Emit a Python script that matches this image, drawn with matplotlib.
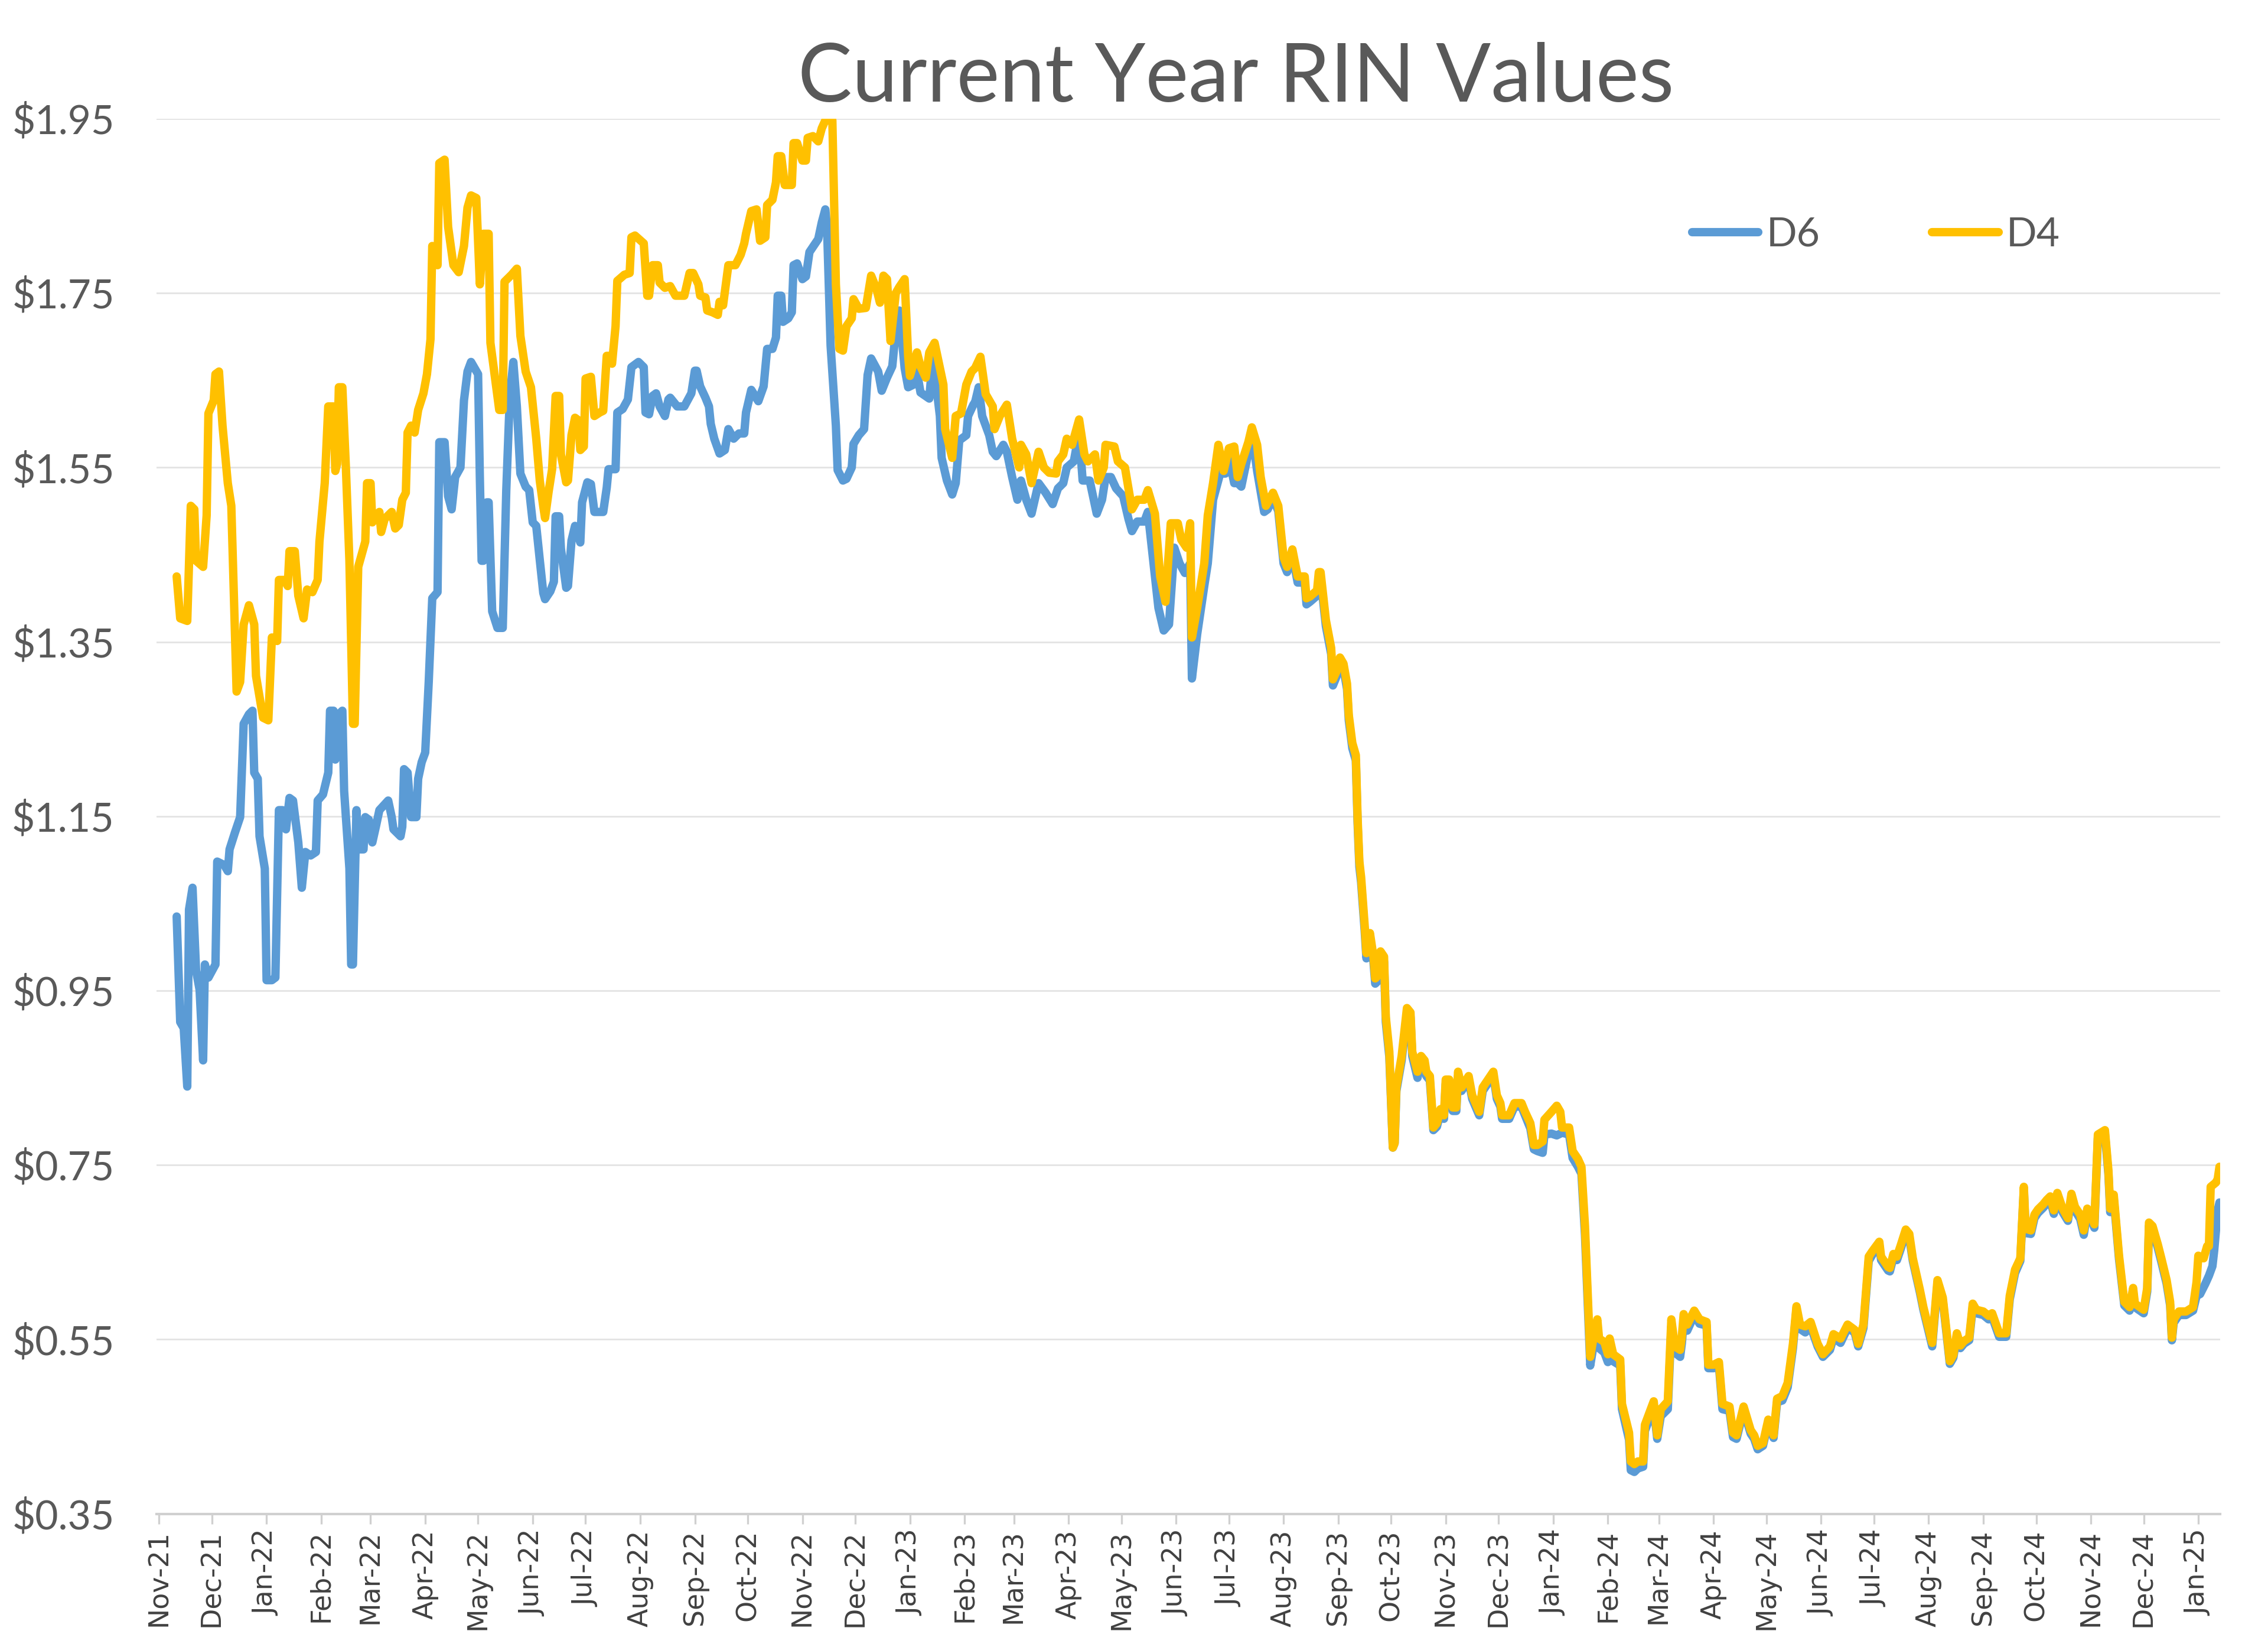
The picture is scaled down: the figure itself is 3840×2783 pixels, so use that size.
import matplotlib
matplotlib.use('Agg')
import matplotlib.pyplot as plt
import matplotlib.dates as mdates
import pandas as pd

# values ($ per RIN)
d6 = [
    ('2021-11-11', 1.035), ('2021-11-13', 0.914), ('2021-11-15', 0.907), ('2021-11-17', 0.84), ('2021-11-18', 1.043),
    ('2021-11-20', 1.068), ('2021-11-22', 0.973), ('2021-11-24', 0.951), ('2021-11-26', 0.87), ('2021-11-27', 0.98),
    ('2021-11-29', 0.965),
    ('2021-12-03', 0.98), ('2021-12-04', 1.098), ('2021-12-08', 1.094), ('2021-12-10', 1.087), ('2021-12-11', 1.112),
    ('2021-12-14', 1.131), ('2021-12-17', 1.149), ('2021-12-19', 1.256), ('2021-12-22', 1.267), ('2021-12-24', 1.271),
    ('2021-12-25', 1.2), ('2021-12-27', 1.193), ('2021-12-28', 1.127), ('2021-12-31', 1.09),
    ('2022-01-01', 0.962), ('2022-01-04', 0.962), ('2022-01-06', 0.965), ('2022-01-08', 1.157), ('2022-01-10', 1.157),
    ('2022-01-12', 1.135), ('2022-01-14', 1.171), ('2022-01-16', 1.168), ('2022-01-19', 1.12), ('2022-01-21', 1.068),
    ('2022-01-23', 1.109), ('2022-01-26', 1.105), ('2022-01-29', 1.109), ('2022-01-30', 1.168),
    ('2022-02-02', 1.175), ('2022-02-05', 1.2), ('2022-02-06', 1.271), ('2022-02-08', 1.271), ('2022-02-09', 1.215),
    ('2022-02-11', 1.267), ('2022-02-13', 1.271), ('2022-02-14', 1.179), ('2022-02-17', 1.09), ('2022-02-18', 0.98),
    ('2022-02-19', 0.98), ('2022-02-21', 1.157), ('2022-02-22', 1.112), ('2022-02-25', 1.112), ('2022-02-26', 1.149),
    ('2022-02-28', 1.146),
    ('2022-03-02', 1.12), ('2022-03-04', 1.138), ('2022-03-06', 1.157), ('2022-03-11', 1.168), ('2022-03-13', 1.149),
    ('2022-03-14', 1.135), ('2022-03-18', 1.127), ('2022-03-19', 1.138), ('2022-03-20', 1.204), ('2022-03-22', 1.2),
    ('2022-03-24', 1.149), ('2022-03-27', 1.149), ('2022-03-28', 1.193), ('2022-03-30', 1.212),
    ('2022-04-01', 1.223), ('2022-04-03', 1.304), ('2022-04-05', 1.4), ('2022-04-08', 1.407), ('2022-04-09', 1.579),
    ('2022-04-12', 1.579), ('2022-04-14', 1.517), ('2022-04-16', 1.502), ('2022-04-18', 1.539), ('2022-04-21', 1.55),
    ('2022-04-23', 1.627), ('2022-04-25', 1.66), ('2022-04-27', 1.671),
    ('2022-05-01', 1.657), ('2022-05-02', 1.539), ('2022-05-03', 1.443), ('2022-05-04', 1.443), ('2022-05-06', 1.51),
    ('2022-05-07', 1.51), ('2022-05-09', 1.385), ('2022-05-12', 1.366), ('2022-05-15', 1.366), ('2022-05-17', 1.524),
    ('2022-05-19', 1.631), ('2022-05-21', 1.671), ('2022-05-23', 1.62), ('2022-05-25', 1.543), ('2022-05-28', 1.528),
    ('2022-05-30', 1.524),
    ('2022-06-01', 1.487), ('2022-06-03', 1.483), ('2022-06-05', 1.444), ('2022-06-07', 1.406), ('2022-06-08', 1.399),
    ('2022-06-11', 1.408), ('2022-06-13', 1.419), ('2022-06-14', 1.494), ('2022-06-16', 1.494), ('2022-06-17', 1.457),
    ('2022-06-20', 1.412), ('2022-06-21', 1.414), ('2022-06-23', 1.466), ('2022-06-25', 1.483), ('2022-06-28', 1.464),
    ('2022-06-29', 1.51),
    ('2022-07-02', 1.533), ('2022-07-04', 1.531), ('2022-07-06', 1.499), ('2022-07-11', 1.499), ('2022-07-13', 1.527),
    ('2022-07-14', 1.548), ('2022-07-18', 1.548), ('2022-07-19', 1.613), ('2022-07-22', 1.617), ('2022-07-25', 1.628),
    ('2022-07-27', 1.665), ('2022-07-31', 1.671),
    ('2022-08-03', 1.665), ('2022-08-04', 1.613), ('2022-08-06', 1.611), ('2022-08-08', 1.632), ('2022-08-10', 1.635),
    ('2022-08-12', 1.62), ('2022-08-15', 1.609), ('2022-08-17', 1.628), ('2022-08-18', 1.63), ('2022-08-22', 1.62),
    ('2022-08-26', 1.62), ('2022-08-30', 1.635),
    ('2022-09-01', 1.661), ('2022-09-02', 1.661), ('2022-09-04', 1.643), ('2022-09-07', 1.63), ('2022-09-09', 1.62),
    ('2022-09-10', 1.6), ('2022-09-12', 1.583), ('2022-09-15', 1.566), ('2022-09-18', 1.57), ('2022-09-20', 1.594),
    ('2022-09-23', 1.583), ('2022-09-26', 1.589), ('2022-09-29', 1.589), ('2022-09-30', 1.613),
    ('2022-10-03', 1.639), ('2022-10-07', 1.626), ('2022-10-10', 1.643), ('2022-10-12', 1.686), ('2022-10-15', 1.686),
    ('2022-10-17', 1.699), ('2022-10-18', 1.747), ('2022-10-20', 1.747), ('2022-10-21', 1.717), ('2022-10-24', 1.721),
    ('2022-10-26', 1.728), ('2022-10-27', 1.782), ('2022-10-29', 1.784),
    ('2022-11-01', 1.766), ('2022-11-03', 1.769), ('2022-11-05', 1.797), ('2022-11-07', 1.803), ('2022-11-10', 1.812),
    ('2022-11-12', 1.831), ('2022-11-14', 1.846), ('2022-11-15', 1.825), ('2022-11-17', 1.69), ('2022-11-20', 1.598),
    ('2022-11-21', 1.547), ('2022-11-24', 1.535), ('2022-11-26', 1.537), ('2022-11-29', 1.55), ('2022-11-30', 1.577),
    ('2022-12-03', 1.587), ('2022-12-06', 1.594), ('2022-12-08', 1.656), ('2022-12-10', 1.675), ('2022-12-14', 1.66),
    ('2022-12-16', 1.638), ('2022-12-19', 1.653), ('2022-12-22', 1.666), ('2022-12-24', 1.708), ('2022-12-26', 1.73),
    ('2022-12-29', 1.664), ('2022-12-31', 1.642),
    ('2023-01-03', 1.645), ('2023-01-05', 1.66), ('2023-01-07', 1.636), ('2023-01-12', 1.629), ('2023-01-14', 1.678),
    ('2023-01-18', 1.609), ('2023-01-19', 1.561), ('2023-01-22', 1.535), ('2023-01-25', 1.519), ('2023-01-27', 1.532),
    ('2023-01-29', 1.581),
    ('2023-02-02', 1.587), ('2023-02-03', 1.609), ('2023-02-06', 1.622), ('2023-02-07', 1.625), ('2023-02-09', 1.642),
    ('2023-02-11', 1.609), ('2023-02-15', 1.587), ('2023-02-17', 1.568), ('2023-02-19', 1.563), ('2023-02-23', 1.576),
    ('2023-02-25', 1.568), ('2023-02-28', 1.539),
    ('2023-03-03', 1.513), ('2023-03-05', 1.535), ('2023-03-08', 1.513), ('2023-03-11', 1.497), ('2023-03-15', 1.532),
    ('2023-03-19', 1.521), ('2023-03-23', 1.508), ('2023-03-26', 1.526), ('2023-03-29', 1.532), ('2023-03-31', 1.55),
    ('2023-04-04', 1.557), ('2023-04-07', 1.59), ('2023-04-09', 1.535), ('2023-04-13', 1.535), ('2023-04-17', 1.497),
    ('2023-04-20', 1.513), ('2023-04-22', 1.539), ('2023-04-25', 1.539), ('2023-04-28', 1.526),
    ('2023-05-02', 1.517), ('2023-05-05', 1.491), ('2023-05-07', 1.477), ('2023-05-10', 1.488), ('2023-05-14', 1.488),
    ('2023-05-16', 1.499), ('2023-05-19', 1.444), ('2023-05-22', 1.389), ('2023-05-25', 1.363), ('2023-05-28', 1.37),
    ('2023-05-31', 1.458),
    ('2023-06-03', 1.44), ('2023-06-06', 1.429), ('2023-06-09', 1.44), ('2023-06-10', 1.308), ('2023-06-13', 1.359),
    ('2023-06-17', 1.414), ('2023-06-19', 1.44), ('2023-06-22', 1.513), ('2023-06-26', 1.543), ('2023-06-29', 1.543),
    ('2023-07-01', 1.561), ('2023-07-04', 1.532), ('2023-07-06', 1.532), ('2023-07-08', 1.528), ('2023-07-11', 1.557),
    ('2023-07-14', 1.59), ('2023-07-17', 1.546), ('2023-07-21', 1.499), ('2023-07-23', 1.502), ('2023-07-26', 1.515),
    ('2023-07-29', 1.5),
    ('2023-08-01', 1.44), ('2023-08-03', 1.43), ('2023-08-06', 1.45), ('2023-08-09', 1.418), ('2023-08-13', 1.418),
    ('2023-08-14', 1.393), ('2023-08-16', 1.396), ('2023-08-20', 1.403), ('2023-08-21', 1.424), ('2023-08-22', 1.424),
    ('2023-08-25', 1.368), ('2023-08-28', 1.336), ('2023-08-29', 1.3), ('2023-08-31', 1.31),
    ('2023-09-02', 1.326), ('2023-09-04', 1.319), ('2023-09-06', 1.296), ('2023-09-07', 1.26), ('2023-09-09', 1.228),
    ('2023-09-11', 1.214), ('2023-09-12', 1.142), ('2023-09-13', 1.092), ('2023-09-14', 1.074), ('2023-09-16', 1.019),
    ('2023-09-17', 0.987), ('2023-09-19', 1.01), ('2023-09-21', 0.983), ('2023-09-22', 0.958), ('2023-09-23', 0.96),
    ('2023-09-25', 0.989), ('2023-09-27', 0.983), ('2023-09-28', 0.914), ('2023-09-30', 0.874),
    ('2023-10-02', 0.77), ('2023-10-03', 0.775), ('2023-10-04', 0.835), ('2023-10-07', 0.87), ('2023-10-10', 0.925),
    ('2023-10-12', 0.92), ('2023-10-13', 0.875), ('2023-10-16', 0.85), ('2023-10-18', 0.87), ('2023-10-20', 0.865),
    ('2023-10-21', 0.852), ('2023-10-23', 0.847), ('2023-10-25', 0.79), ('2023-10-27', 0.794), ('2023-10-29', 0.81),
    ('2023-10-31', 0.803),
    ('2023-11-01', 0.843), ('2023-11-03', 0.843), ('2023-11-05', 0.812), ('2023-11-07', 0.812), ('2023-11-08', 0.852),
    ('2023-11-10', 0.835), ('2023-11-14', 0.848), ('2023-11-16', 0.826), ('2023-11-20', 0.807), ('2023-11-22', 0.835),
    ('2023-11-25', 0.844), ('2023-11-28', 0.853), ('2023-11-30', 0.826),
    ('2023-12-02', 0.817), ('2023-12-03', 0.803), ('2023-12-07', 0.803), ('2023-12-10', 0.817), ('2023-12-14', 0.817),
    ('2023-12-16', 0.807), ('2023-12-19', 0.792), ('2023-12-21', 0.768), ('2023-12-23', 0.766), ('2023-12-26', 0.764),
    ('2023-12-27', 0.785), ('2023-12-31', 0.786),
    ('2024-01-03', 0.784), ('2024-01-05', 0.786), ('2024-01-06', 0.787), ('2024-01-10', 0.785), ('2024-01-12', 0.758),
    ('2024-01-15', 0.748), ('2024-01-17', 0.74), ('2024-01-19', 0.67), ('2024-01-21', 0.57), ('2024-01-22', 0.52),
    ('2024-01-24', 0.545), ('2024-01-26', 0.565), ('2024-01-27', 0.54), ('2024-01-30', 0.535),
    ('2024-02-01', 0.524), ('2024-02-02', 0.54), ('2024-02-04', 0.525), ('2024-02-08', 0.52), ('2024-02-09', 0.47),
    ('2024-02-13', 0.435), ('2024-02-14', 0.4), ('2024-02-16', 0.398), ('2024-02-18', 0.402), ('2024-02-21', 0.404),
    ('2024-02-22', 0.445), ('2024-02-27', 0.472), ('2024-02-29', 0.436),
    ('2024-03-02', 0.462), ('2024-03-06', 0.47), ('2024-03-08', 0.565), ('2024-03-10', 0.535), ('2024-03-13', 0.53),
    ('2024-03-14', 0.546), ('2024-03-15', 0.572), ('2024-03-17', 0.56), ('2024-03-21', 0.578), ('2024-03-24', 0.568),
    ('2024-03-28', 0.566), ('2024-03-29', 0.517),
    ('2024-04-01', 0.517), ('2024-04-04', 0.52), ('2024-04-06', 0.47), ('2024-04-10', 0.468), ('2024-04-12', 0.438),
    ('2024-04-14', 0.436), ('2024-04-18', 0.469), ('2024-04-22', 0.442), ('2024-04-24', 0.436), ('2024-04-26', 0.424),
    ('2024-04-29', 0.428),
    ('2024-05-02', 0.455), ('2024-05-05', 0.437), ('2024-05-07', 0.478), ('2024-05-10', 0.48), ('2024-05-13', 0.495),
    ('2024-05-16', 0.54), ('2024-05-18', 0.585), ('2024-05-20', 0.562), ('2024-05-23', 0.558), ('2024-05-26', 0.565),
    ('2024-05-30', 0.542),
    ('2024-06-02', 0.53), ('2024-06-06', 0.538), ('2024-06-08', 0.552), ('2024-06-12', 0.546), ('2024-06-16', 0.563),
    ('2024-06-20', 0.558), ('2024-06-22', 0.542), ('2024-06-25', 0.563), ('2024-06-28', 0.64), ('2024-06-30', 0.647),
    ('2024-07-04', 0.658), ('2024-07-05', 0.641), ('2024-07-09', 0.629), ('2024-07-10', 0.628), ('2024-07-12', 0.644),
    ('2024-07-14', 0.641), ('2024-07-16', 0.653), ('2024-07-19', 0.672), ('2024-07-21', 0.667), ('2024-07-23', 0.64),
    ('2024-07-27', 0.604), ('2024-07-29', 0.584),
    ('2024-08-03', 0.542), ('2024-08-06', 0.614), ('2024-08-09', 0.595), ('2024-08-11', 0.559), ('2024-08-13', 0.522),
    ('2024-08-15', 0.529), ('2024-08-17', 0.554), ('2024-08-19', 0.54), ('2024-08-21', 0.545), ('2024-08-24', 0.549),
    ('2024-08-26', 0.587), ('2024-08-28', 0.58),
    ('2024-09-01', 0.578), ('2024-09-04', 0.573), ('2024-09-06', 0.576), ('2024-09-10', 0.553), ('2024-09-14', 0.553),
    ('2024-09-16', 0.596), ('2024-09-19', 0.626), ('2024-09-22', 0.64), ('2024-09-24', 0.722), ('2024-09-25', 0.672),
    ('2024-09-28', 0.671), ('2024-09-30', 0.689),
    ('2024-10-02', 0.695), ('2024-10-05', 0.701), ('2024-10-07', 0.706), ('2024-10-09', 0.71), ('2024-10-11', 0.694),
    ('2024-10-13', 0.714), ('2024-10-16', 0.696), ('2024-10-19', 0.686), ('2024-10-21', 0.713), ('2024-10-23', 0.698),
    ('2024-10-26', 0.688), ('2024-10-28', 0.67), ('2024-10-30', 0.696),
    ('2024-11-01', 0.689), ('2024-11-03', 0.678), ('2024-11-05', 0.781), ('2024-11-09', 0.786), ('2024-11-11', 0.739),
    ('2024-11-12', 0.696), ('2024-11-14', 0.712), ('2024-11-17', 0.642), ('2024-11-20', 0.589), ('2024-11-23', 0.583),
    ('2024-11-25', 0.605), ('2024-11-26', 0.587),
    ('2024-12-01', 0.58), ('2024-12-03', 0.605), ('2024-12-04', 0.68), ('2024-12-06', 0.676), ('2024-12-09', 0.655),
    ('2024-12-11', 0.639), ('2024-12-14', 0.614), ('2024-12-16', 0.589), ('2024-12-17', 0.549), ('2024-12-18', 0.569),
    ('2024-12-21', 0.578), ('2024-12-25', 0.578), ('2024-12-29', 0.583), ('2024-12-31', 0.6),
    ('2025-01-02', 0.602), ('2025-01-05', 0.614), ('2025-01-07', 0.623), ('2025-01-09', 0.634), ('2025-01-10', 0.652),
    ('2025-01-12', 0.698), ('2025-01-13', 0.707),
]

d4 = [
    ('2021-11-11', 1.425), ('2021-11-13', 1.377), ('2021-11-17', 1.374), ('2021-11-19', 1.506), ('2021-11-21', 1.502),
    ('2021-11-22', 1.443), ('2021-11-26', 1.436), ('2021-11-28', 1.495), ('2021-11-29', 1.612),
    ('2021-12-02', 1.627), ('2021-12-03', 1.657), ('2021-12-05', 1.66), ('2021-12-07', 1.598), ('2021-12-10', 1.532),
    ('2021-12-12', 1.506), ('2021-12-15', 1.293), ('2021-12-17', 1.304), ('2021-12-19', 1.37), ('2021-12-22', 1.392),
    ('2021-12-25', 1.37), ('2021-12-26', 1.311), ('2021-12-30', 1.263),
    ('2022-01-02', 1.26), ('2022-01-04', 1.355), ('2022-01-07', 1.351), ('2022-01-08', 1.421), ('2022-01-11', 1.421),
    ('2022-01-13', 1.414), ('2022-01-14', 1.454), ('2022-01-17', 1.454), ('2022-01-19', 1.403), ('2022-01-22', 1.377),
    ('2022-01-24', 1.41), ('2022-01-27', 1.407), ('2022-01-30', 1.421), ('2022-01-31', 1.465),
    ('2022-02-03', 1.532), ('2022-02-05', 1.62), ('2022-02-08', 1.62), ('2022-02-09', 1.546), ('2022-02-10', 1.554),
    ('2022-02-11', 1.642), ('2022-02-13', 1.642), ('2022-02-15', 1.55), ('2022-02-17', 1.443), ('2022-02-19', 1.256),
    ('2022-02-20', 1.256), ('2022-02-22', 1.436), ('2022-02-26', 1.465), ('2022-02-27', 1.532),
    ('2022-03-01', 1.532), ('2022-03-02', 1.487), ('2022-03-06', 1.499), ('2022-03-07', 1.476), ('2022-03-09', 1.491),
    ('2022-03-13', 1.499), ('2022-03-15', 1.48), ('2022-03-17', 1.484), ('2022-03-19', 1.513), ('2022-03-21', 1.521),
    ('2022-03-22', 1.59), ('2022-03-24', 1.598), ('2022-03-26', 1.59), ('2022-03-28', 1.616), ('2022-03-31', 1.635),
    ('2022-04-02', 1.657), ('2022-04-04', 1.697), ('2022-04-05', 1.804), ('2022-04-08', 1.782), ('2022-04-09', 1.899),
    ('2022-04-12', 1.903), ('2022-04-14', 1.826), ('2022-04-17', 1.782), ('2022-04-20', 1.774), ('2022-04-23', 1.804),
    ('2022-04-25', 1.848), ('2022-04-27', 1.862), ('2022-04-30', 1.859),
    ('2022-05-02', 1.76), ('2022-05-04', 1.818), ('2022-05-07', 1.818), ('2022-05-08', 1.693), ('2022-05-13', 1.616),
    ('2022-05-15', 1.616), ('2022-05-16', 1.763), ('2022-05-20', 1.771), ('2022-05-23', 1.778), ('2022-05-25', 1.701),
    ('2022-05-28', 1.66), ('2022-05-31', 1.642),
    ('2022-06-03', 1.583), ('2022-06-05', 1.535), ('2022-06-07', 1.505), ('2022-06-08', 1.492), ('2022-06-10', 1.522),
    ('2022-06-12', 1.548), ('2022-06-14', 1.632), ('2022-06-16', 1.632), ('2022-06-17', 1.565), ('2022-06-20', 1.533),
    ('2022-06-21', 1.535), ('2022-06-23', 1.587), ('2022-06-25', 1.607), ('2022-06-27', 1.604), ('2022-06-28', 1.57),
    ('2022-06-30', 1.574),
    ('2022-07-01', 1.652), ('2022-07-04', 1.654), ('2022-07-06', 1.609), ('2022-07-09', 1.613), ('2022-07-11', 1.615),
    ('2022-07-13', 1.678), ('2022-07-15', 1.678), ('2022-07-16', 1.669), ('2022-07-18', 1.712), ('2022-07-19', 1.764),
    ('2022-07-23', 1.771), ('2022-07-26', 1.773), ('2022-07-27', 1.814), ('2022-07-29', 1.816),
    ('2022-08-03', 1.807), ('2022-08-05', 1.747), ('2022-08-06', 1.747), ('2022-08-08', 1.782), ('2022-08-11', 1.782),
    ('2022-08-12', 1.762), ('2022-08-15', 1.756), ('2022-08-18', 1.758), ('2022-08-21', 1.747), ('2022-08-26', 1.747),
    ('2022-08-29', 1.773), ('2022-08-31', 1.773),
    ('2022-09-03', 1.76), ('2022-09-04', 1.747), ('2022-09-07', 1.745), ('2022-09-08', 1.73), ('2022-09-11', 1.728),
    ('2022-09-14', 1.725), ('2022-09-15', 1.74), ('2022-09-17', 1.736), ('2022-09-20', 1.782), ('2022-09-24', 1.782),
    ('2022-09-27', 1.794), ('2022-09-29', 1.807), ('2022-09-30', 1.818),
    ('2022-10-03', 1.844), ('2022-10-06', 1.846), ('2022-10-08', 1.81), ('2022-10-11', 1.814), ('2022-10-12', 1.851),
    ('2022-10-15', 1.857), ('2022-10-17', 1.877), ('2022-10-18', 1.907), ('2022-10-20', 1.907), ('2022-10-22', 1.874),
    ('2022-10-26', 1.874), ('2022-10-27', 1.922), ('2022-10-29', 1.922),
    ('2022-11-01', 1.902), ('2022-11-03', 1.902), ('2022-11-04', 1.928), ('2022-11-07', 1.93), ('2022-11-10', 1.924),
    ('2022-11-12', 1.939), ('2022-11-14', 1.948), ('2022-11-18', 1.948), ('2022-11-20', 1.76), ('2022-11-22', 1.686),
    ('2022-11-24', 1.684), ('2022-11-26', 1.712), ('2022-11-29', 1.721), ('2022-11-30', 1.743),
    ('2022-12-03', 1.732), ('2022-12-07', 1.733), ('2022-12-10', 1.77), ('2022-12-13', 1.755), ('2022-12-15', 1.739),
    ('2022-12-17', 1.77), ('2022-12-19', 1.766), ('2022-12-21', 1.695), ('2022-12-24', 1.75), ('2022-12-26', 1.757),
    ('2022-12-29', 1.766), ('2022-12-31', 1.678),
    ('2023-01-01', 1.655), ('2023-01-05', 1.682), ('2023-01-07', 1.666), ('2023-01-10', 1.653), ('2023-01-12', 1.682),
    ('2023-01-15', 1.693), ('2023-01-20', 1.645), ('2023-01-21', 1.594), ('2023-01-25', 1.561), ('2023-01-27', 1.609),
    ('2023-01-30', 1.612),
    ('2023-02-02', 1.645), ('2023-02-05', 1.66), ('2023-02-07', 1.664), ('2023-02-10', 1.677), ('2023-02-13', 1.634),
    ('2023-02-17', 1.62), ('2023-02-18', 1.594), ('2023-02-21', 1.609), ('2023-02-25', 1.622), ('2023-02-28', 1.583),
    ('2023-03-04', 1.55), ('2023-03-05', 1.576), ('2023-03-08', 1.565), ('2023-03-11', 1.532), ('2023-03-15', 1.568),
    ('2023-03-18', 1.55), ('2023-03-21', 1.544), ('2023-03-25', 1.543), ('2023-03-26', 1.557), ('2023-03-29', 1.565),
    ('2023-03-31', 1.583),
    ('2023-04-03', 1.576), ('2023-04-07', 1.605), ('2023-04-10', 1.565), ('2023-04-12', 1.557), ('2023-04-16', 1.565),
    ('2023-04-18', 1.535), ('2023-04-21', 1.55), ('2023-04-22', 1.576), ('2023-04-27', 1.574), ('2023-04-29', 1.557),
    ('2023-05-03', 1.55), ('2023-05-07', 1.502), ('2023-05-10', 1.513), ('2023-05-14', 1.513), ('2023-05-16', 1.524),
    ('2023-05-20', 1.497), ('2023-05-23', 1.425), ('2023-05-26', 1.396), ('2023-05-29', 1.486),
    ('2023-06-02', 1.486), ('2023-06-04', 1.467), ('2023-06-07', 1.458), ('2023-06-09', 1.486), ('2023-06-10', 1.355),
    ('2023-06-13', 1.389), ('2023-06-17', 1.44), ('2023-06-19', 1.495), ('2023-06-22', 1.532), ('2023-06-25', 1.576),
    ('2023-06-28', 1.546),
    ('2023-07-01', 1.572), ('2023-07-04', 1.574), ('2023-07-06', 1.539), ('2023-07-08', 1.554), ('2023-07-12', 1.579),
    ('2023-07-14', 1.596), ('2023-07-17', 1.576), ('2023-07-19', 1.539), ('2023-07-22', 1.506), ('2023-07-26', 1.521),
    ('2023-07-29', 1.506),
    ('2023-08-01', 1.447), ('2023-08-03', 1.436), ('2023-08-06', 1.456), ('2023-08-09', 1.425), ('2023-08-13', 1.425),
    ('2023-08-14', 1.4), ('2023-08-16', 1.402), ('2023-08-20', 1.409), ('2023-08-21', 1.43), ('2023-08-22', 1.43),
    ('2023-08-25', 1.375), ('2023-08-28', 1.343), ('2023-08-29', 1.307), ('2023-08-31', 1.316),
    ('2023-09-02', 1.332), ('2023-09-04', 1.325), ('2023-09-06', 1.302), ('2023-09-07', 1.266), ('2023-09-09', 1.234),
    ('2023-09-11', 1.22), ('2023-09-12', 1.148), ('2023-09-13', 1.098), ('2023-09-14', 1.08), ('2023-09-16', 1.025),
    ('2023-09-17', 0.993), ('2023-09-19', 1.016), ('2023-09-21', 0.989), ('2023-09-22', 0.964), ('2023-09-23', 0.966),
    ('2023-09-25', 0.995), ('2023-09-27', 0.989), ('2023-09-28', 0.92), ('2023-09-30', 0.88),
    ('2023-10-02', 0.77), ('2023-10-03', 0.775), ('2023-10-04', 0.839), ('2023-10-07', 0.875), ('2023-10-10', 0.93),
    ('2023-10-12', 0.925), ('2023-10-13', 0.88), ('2023-10-16', 0.857), ('2023-10-18', 0.875), ('2023-10-20', 0.87),
    ('2023-10-21', 0.857), ('2023-10-23', 0.852), ('2023-10-25', 0.793), ('2023-10-27', 0.798), ('2023-10-29', 0.814),
    ('2023-10-31', 0.807),
    ('2023-11-01', 0.848), ('2023-11-03', 0.848), ('2023-11-05', 0.816), ('2023-11-07', 0.816), ('2023-11-08', 0.857),
    ('2023-11-10', 0.839), ('2023-11-14', 0.852), ('2023-11-16', 0.83), ('2023-11-20', 0.811), ('2023-11-22', 0.839),
    ('2023-11-25', 0.848), ('2023-11-28', 0.857), ('2023-11-30', 0.83),
    ('2023-12-02', 0.821), ('2023-12-03', 0.807), ('2023-12-07', 0.807), ('2023-12-10', 0.821), ('2023-12-14', 0.821),
    ('2023-12-16', 0.811), ('2023-12-19', 0.798), ('2023-12-21', 0.773), ('2023-12-23', 0.773), ('2023-12-26', 0.777),
    ('2023-12-27', 0.802), ('2023-12-31', 0.811),
    ('2024-01-03', 0.818), ('2024-01-05', 0.811), ('2024-01-06', 0.793), ('2024-01-10', 0.793), ('2024-01-12', 0.766),
    ('2024-01-15', 0.757), ('2024-01-17', 0.748), ('2024-01-19', 0.68), ('2024-01-21', 0.58), ('2024-01-22', 0.53),
    ('2024-01-24', 0.554), ('2024-01-26', 0.573), ('2024-01-27', 0.551), ('2024-01-30', 0.547),
    ('2024-02-01', 0.533), ('2024-02-02', 0.551), ('2024-02-04', 0.533), ('2024-02-08', 0.527), ('2024-02-09', 0.476),
    ('2024-02-13', 0.443), ('2024-02-14', 0.41), ('2024-02-16', 0.407), ('2024-02-18', 0.41), ('2024-02-21', 0.41),
    ('2024-02-22', 0.452), ('2024-02-27', 0.479), ('2024-02-29', 0.44),
    ('2024-03-02', 0.47), ('2024-03-06', 0.479), ('2024-03-08', 0.573), ('2024-03-10', 0.542), ('2024-03-13', 0.538),
    ('2024-03-14', 0.554), ('2024-03-15', 0.579), ('2024-03-17', 0.567), ('2024-03-21', 0.583), ('2024-03-24', 0.573),
    ('2024-03-28', 0.57), ('2024-03-29', 0.521),
    ('2024-04-01', 0.521), ('2024-04-04', 0.524), ('2024-04-06', 0.476), ('2024-04-10', 0.473), ('2024-04-12', 0.443),
    ('2024-04-14', 0.44), ('2024-04-18', 0.473), ('2024-04-22', 0.446), ('2024-04-24', 0.44), ('2024-04-26', 0.428),
    ('2024-04-29', 0.431),
    ('2024-05-02', 0.458), ('2024-05-05', 0.44), ('2024-05-07', 0.482), ('2024-05-10', 0.485), ('2024-05-13', 0.5),
    ('2024-05-16', 0.545), ('2024-05-18', 0.588), ('2024-05-20', 0.567), ('2024-05-23', 0.565), ('2024-05-26', 0.57),
    ('2024-05-30', 0.545),
    ('2024-06-02', 0.533), ('2024-06-06', 0.542), ('2024-06-08', 0.556), ('2024-06-12', 0.551), ('2024-06-16', 0.567),
    ('2024-06-20', 0.561), ('2024-06-22', 0.545), ('2024-06-25', 0.567), ('2024-06-28', 0.645), ('2024-06-30', 0.651),
    ('2024-07-04', 0.662), ('2024-07-05', 0.645), ('2024-07-09', 0.633), ('2024-07-10', 0.632), ('2024-07-12', 0.648),
    ('2024-07-14', 0.645), ('2024-07-16', 0.657), ('2024-07-19', 0.676), ('2024-07-21', 0.671), ('2024-07-23', 0.643),
    ('2024-07-27', 0.607), ('2024-07-29', 0.587),
    ('2024-08-03', 0.546), ('2024-08-06', 0.618), ('2024-08-09', 0.598), ('2024-08-11', 0.562), ('2024-08-13', 0.525),
    ('2024-08-15', 0.532), ('2024-08-17', 0.557), ('2024-08-19', 0.543), ('2024-08-21', 0.548), ('2024-08-24', 0.552),
    ('2024-08-26', 0.591), ('2024-08-28', 0.584),
    ('2024-09-01', 0.582), ('2024-09-04', 0.577), ('2024-09-06', 0.58), ('2024-09-10', 0.557), ('2024-09-14', 0.557),
    ('2024-09-16', 0.6), ('2024-09-19', 0.63), ('2024-09-22', 0.643), ('2024-09-24', 0.725), ('2024-09-25', 0.677),
    ('2024-09-28', 0.675), ('2024-09-30', 0.693),
    ('2024-10-02', 0.699), ('2024-10-05', 0.705), ('2024-10-07', 0.71), ('2024-10-09', 0.714), ('2024-10-11', 0.698),
    ('2024-10-13', 0.718), ('2024-10-16', 0.7), ('2024-10-19', 0.689), ('2024-10-21', 0.717), ('2024-10-23', 0.702),
    ('2024-10-26', 0.693), ('2024-10-28', 0.675), ('2024-10-30', 0.7),
    ('2024-11-01', 0.693), ('2024-11-03', 0.682), ('2024-11-05', 0.785), ('2024-11-09', 0.79), ('2024-11-11', 0.743),
    ('2024-11-12', 0.7), ('2024-11-14', 0.716), ('2024-11-17', 0.646), ('2024-11-20', 0.593), ('2024-11-23', 0.587),
    ('2024-11-25', 0.609), ('2024-11-26', 0.591),
    ('2024-12-01', 0.584), ('2024-12-03', 0.609), ('2024-12-04', 0.684), ('2024-12-06', 0.68), ('2024-12-09', 0.659),
    ('2024-12-11', 0.643), ('2024-12-14', 0.618), ('2024-12-16', 0.593), ('2024-12-17', 0.552), ('2024-12-18', 0.573),
    ('2024-12-21', 0.582), ('2024-12-25', 0.582), ('2024-12-29', 0.587), ('2024-12-31', 0.616),
    ('2025-01-01', 0.646), ('2025-01-04', 0.643), ('2025-01-06', 0.657), ('2025-01-07', 0.657), ('2025-01-08', 0.725),
    ('2025-01-11', 0.73), ('2025-01-12', 0.734), ('2025-01-13', 0.748),
]

y_ticks = [0.35, 0.55, 0.75, 0.95, 1.15, 1.35, 1.55, 1.75, 1.95]
title = 'Current Year RIN Values'
blue = '#5B9BD5'
gold = '#FFC000'
grey = '#595959'

fig = plt.figure(figsize=(12.8, 9.2767), dpi=300)
ax = fig.add_axes([0.0689, 0.0792, 0.9101, 0.8486])

d6_x = pd.to_datetime([d for d, v in d6])
d4_x = pd.to_datetime([d for d, v in d4])
ax.plot(d6_x, [v for d, v in d6], color=blue, lw=3.4, label='D6',
        solid_joinstyle='round', solid_capstyle='round')
ax.plot(d4_x, [v for d, v in d4], color=gold, lw=3.4, label='D4',
        solid_joinstyle='round', solid_capstyle='round')

ax.set_ylim(0.35, 1.95)
ax.set_xlim(pd.Timestamp('2021-10-30 10:00'), pd.Timestamp('2025-01-13 12:00'))

ax.set_yticks(y_ticks)
ax.set_yticklabels(['${:.2f}'.format(t) for t in y_ticks], fontfamily='Lato', fontsize=16.3, color=grey)
ax.tick_params(axis='y', length=0, pad=17)
ax.grid(axis='y', color='#E4E4E4', lw=0.7)
ax.set_axisbelow(True)

ax.xaxis.set_major_locator(mdates.MonthLocator())
ax.xaxis.set_major_formatter(mdates.DateFormatter('%b-%y'))
ax.tick_params(axis='x', direction='out', length=4, width=0.8, color='#D0D0D0', pad=2.5,
               labelsize=11, labelcolor='#404040', rotation=90)

for side in ['top', 'right', 'left']:
    ax.spines[side].set_visible(False)
ax.spines['bottom'].set_color('#D0D0D0')
ax.spines['bottom'].set_linewidth(1.0)

fig.text(0.545, 0.952, title, ha='center', va='center', fontfamily='Lato', fontsize=33, color=grey)

leg = fig.legend(loc='center left', bbox_to_anchor=(0.746, 0.857), ncol=2, frameon=False,
                 prop={'family': 'Lato', 'size': 16.3}, handlelength=1.65, handletextpad=0.2,
                 columnspacing=2.8, borderpad=0, borderaxespad=0)
for t in leg.get_texts():
    t.set_color(grey)
for h in leg.get_lines():
    h.set_solid_capstyle('round')

fig.savefig('out.png', dpi=300, facecolor='white')
